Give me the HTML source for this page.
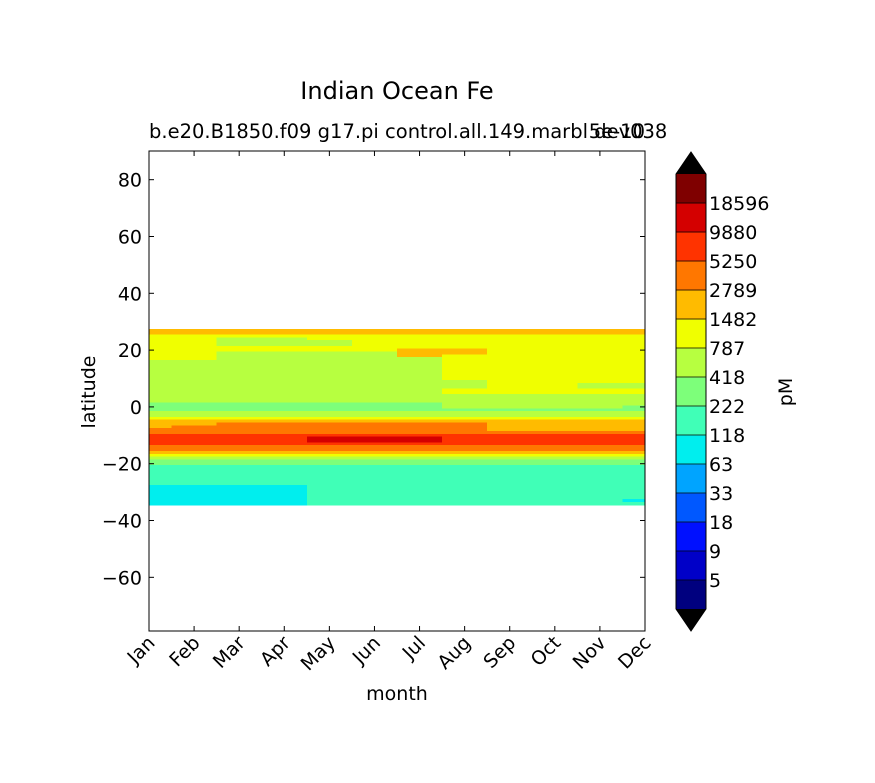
<!DOCTYPE html>
<html><head><meta charset="utf-8"><style>
html,body{margin:0;padding:0;background:#fff;}
svg{display:block;font-family:"DejaVu Sans","Liberation Sans",sans-serif;}
</style></head><body>
<svg id="chart" width="875" height="783" viewBox="0 0 875 783" xmlns="http://www.w3.org/2000/svg">
<text x="397" y="99" font-size="24" text-anchor="middle">Indian Ocean Fe</text>
<text x="149" y="138" font-size="19.5">b.e20.B1850.f09 g17.pi control.all.149.marbl dev038</text>
<text x="645" y="138" font-size="19.5" text-anchor="end">5e-10</text>
<g id="plot"></g>
<g id="cbar"></g>
<text x="0" y="0" font-size="19" text-anchor="middle" transform="translate(95,392) rotate(-90)">latitude</text>
<text x="397" y="700" font-size="19" text-anchor="middle">month</text>
<text x="0" y="0" font-size="19" text-anchor="middle" transform="translate(792,392) rotate(-90)">pM</text>
</svg>
<script>
const months = ["Jan","Feb","Mar","Apr","May","Jun","Jul","Aug","Sep","Oct","Nov","Dec"];
const latTicks = [80,60,40,20,0,-20,-40,-60];
const levelBounds = [5,9,18,33,63,118,222,418,787,1482,2789,5250,9880,18596];
const levelColors = ["#00007f","#0000c8","#0010ff","#0058ff","#00a4ff","#00eeee","#40ffb7","#7dff7a","#b7ff40","#f0ff00","#ffbb00","#ff7700","#ff3300","#d40000","#7f0000"];
// representative concentration (pM) per code character
const codeValues = {"5":90,"6":170,"7":320,"8":600,"9":1100,"a":2100,"b":3900,"c":7200,"d":13000};
const rowLats = [27,26,25,24,23,22,21,20,19,18,17,16,15,14,13,12,11,10,9,8,7,6,5,4,3,2,1,0,-1,-2,-3,-4,-5,-6,-7,-8,-9,-10,-11,-12,-13,-14,-15,-16,-17,-18,-19,-20,-21,-22,-23,-24,-25,-26,-27,-28,-29,-30,-31,-32,-33,-34];
const rowCodes = [
"aaaaaaaaaaaa","aaaaaaaaaaaa","999999999999","998899999999","998889999999","998889999999","999999999999",
"999999aa9999","998888aa9999","998888a99999","998888899999","888888899999","888888899999","888888899999",
"888888899999","888888899999","888888899999","888888899999","888888889999","888888889988","888888889988",
"888888899999","888888899999","888888888888","888888888888","888888888888","777777788888","777777788887",
"777777777777","888888888888","888888888888","999999999999","aaaaaaaaaaaa","aabbbbbbaaaa","abbbbbbbaaaa",
"bbbbbbbbaaaa","bbbbbbbbbbbb","cccccccccccc","ccccdddccccc","ccccdddccccc","cccccccccccc","bbbbbbbbbbbb",
"bbbbbbbbbbbb","aaaaaaaaaaaa","999999999999","888888888888","777777777777","777777777777","666666666666",
"666666666666","666666666666","666666666666","666666666666","666666666666","666666666666","555566666666",
"555566666666","555566666666","555566666666","555566666666","555566666665","555566666666"];

const NS="http://www.w3.org/2000/svg";
const X0=149,X1=645,Y0=151,Y1=631;
const latMax=90.1, latMin=-78.9;
function xs(m){return X0+(X1-X0)*m/11;}
function ys(l){return Y0+(Y1-Y0)*(latMax-l)/(latMax-latMin);}
function level(v){let i=0;while(i<levelBounds.length&&v>=levelBounds[i])i++;return i;}
function mk(tag,attrs,parent){const e=document.createElementNS(NS,tag);for(const k in attrs)e.setAttribute(k,attrs[k]);parent.appendChild(e);return e;}
const plot=document.getElementById('plot');
mk('rect',{x:X0,y:Y0,width:X1-X0,height:Y1-Y0,fill:'#fff'},plot);
rowLats.forEach((lat,r)=>{
  for(let m=0;m<12;m++){
    const v=codeValues[rowCodes[r][m]];
    const xa=Math.max(X0,xs(m-0.5)), xb=Math.min(X1,xs(m+0.5));
    const ya=ys(lat+0.5), yb=ys(lat-0.5);
    const c=mk('rect',{x:xa,y:ya,width:xb-xa+0.6,height:yb-ya+0.6,fill:levelColors[level(v)],'shape-rendering':'crispEdges'},plot);
    
    
  }
});
const frame=mk('rect',{x:X0,y:Y0,width:X1-X0,height:Y1-Y0,fill:'none',stroke:'#000','stroke-width':1},plot);


latTicks.forEach(t=>{
  const y=ys(t);
  mk('line',{x1:X0,x2:X0+5,y1:y,y2:y,stroke:'#000'},plot);
  mk('line',{x1:X1,x2:X1-5,y1:y,y2:y,stroke:'#000'},plot);
  const tx=mk('text',{x:X0-7,y:y+7,'font-size':19,'text-anchor':'end'},plot);
  tx.textContent=(t<0?'\u2212'+(-t):t);
  
  
});
months.forEach((mo,i)=>{
  const x=xs(i);
  mk('line',{x1:x,x2:x,y1:Y1,y2:Y1-5,stroke:'#000'},plot);
  mk('line',{x1:x,x2:x,y1:Y0,y2:Y0+5,stroke:'#000'},plot);
  const tx=mk('text',{x:0,y:0,'font-size':19,'text-anchor':'end',transform:`translate(${x+7},${Y1+13}) rotate(-45)`},plot);
  tx.textContent=mo;
  
  
});
// colorbar
const cb=document.getElementById('cbar');
const CX=676,CW=30,CT=174,CB=609,segH=(CB-CT)/levelColors.length;
levelColors.forEach((col,i)=>{
  const y=CB-(i+1)*segH;
  const s=mk('rect',{x:CX,y:y,width:CW,height:segH+0.5,fill:col,'shape-rendering':'crispEdges'},cb);
  
  
});
const tri1=mk('polygon',{points:`${CX},${CT} ${CX+CW},${CT} ${CX+CW/2},152`,fill:'#000'},cb);


const tri2=mk('polygon',{points:`${CX},${CB} ${CX+CW},${CB} ${CX+CW/2},631`,fill:'#000'},cb);


mk('polygon',{points:`${CX+CW/2},152 ${CX+CW},${CT} ${CX+CW},${CB} ${CX+CW/2},631 ${CX},${CB} ${CX},${CT}`,fill:'none',stroke:'#000'},cb);
levelBounds.forEach((b,i)=>{
  const y=CB-(i+1)*segH;
  mk('line',{x1:CX,x2:CX+CW,y1:y,y2:y,stroke:'#000','stroke-width':0.8},cb);
  const tx=mk('text',{x:CX+CW+3,y:y+7,'font-size':19},cb);
  tx.textContent=b;
  
  
});
</script>
</body></html>
